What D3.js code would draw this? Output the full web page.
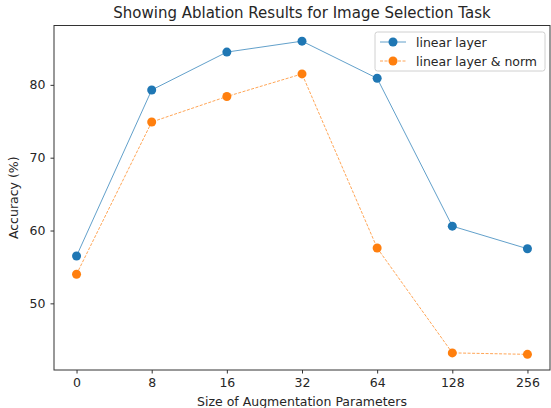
<!DOCTYPE html>
<html><head><meta charset="utf-8">
<script src="https://cdn.jsdelivr.net/npm/d3@7"></script>
<style>body{margin:0;background:#fff;}svg{display:block;font-family:"DejaVu Sans",sans-serif;}</style>
</head><body>
<svg id="c" width="551" height="408"></svg>
<script>
const categories = ["0","8","16","32","64","128","256"];
const linearLayer = [56.5, 79.3, 84.5, 86.0, 80.9, 60.6, 57.5];
const linearLayerNorm = [54.0, 74.9, 78.4, 81.5, 57.6, 43.2, 43.0];
const yTicks = [50, 60, 70, 80];
const seriesNames = ["linear layer", "linear layer & norm"];

const svg = d3.select("#c");
const L = 54, R = 550, T = 25.5, B = 370;
const x = d3.scaleLinear().domain([-0.3, 6.3]).range([L, R]);
const y = d3.scaleLinear().domain([40.85, 88.15]).range([B, T]);
const FS = 12.5;

// axes
const xAxis = svg.append("g").attr("transform", `translate(0,${B})`)
  .call(d3.axisBottom(x).tickValues(d3.range(categories.length)).tickFormat(i => categories[i]).tickSize(3.5).tickPadding(5));
const yAxis = svg.append("g").attr("transform", `translate(${L},0)`)
  .call(d3.axisLeft(y).tickValues(yTicks).tickSize(3.5).tickPadding(5));
[xAxis, yAxis].forEach(g => {
  g.select(".domain").remove();
  g.selectAll("text").attr("font-size", FS).attr("fill", "#262626").attr("font-family", "DejaVu Sans");
  g.selectAll("line").attr("stroke", "#333");
});
svg.append("rect").attr("x", L).attr("y", T).attr("width", R - L).attr("height", B - T)
  .attr("fill", "none").attr("stroke", "#333").attr("stroke-width", 1);

const series = [
  {name: seriesNames[0], vals: linearLayer, color: "#1f77b4", dash: null},
  {name: seriesNames[1], vals: linearLayerNorm, color: "#ff7f0e", dash: "3,1.5"}
];
const line = d3.line().x((d, i) => x(i)).y(d => y(d));
series.forEach(s => {
  svg.append("path").datum(s.vals).attr("d", line).attr("fill", "none")
    .attr("stroke", s.color).attr("stroke-opacity", 0.7).attr("stroke-width", 1)
    .attr("stroke-dasharray", s.dash);
  svg.selectAll(null).data(s.vals).enter().append("circle")
    .attr("cx", (d, i) => x(i)).attr("cy", d => y(d)).attr("r", 4.5).attr("fill", s.color);
});

// title and labels
svg.append("text").attr("x", (L + R) / 2).attr("y", 18).attr("text-anchor", "middle")
  .attr("font-size", 15).attr("fill", "#262626").text("Showing Ablation Results for Image Selection Task");
svg.append("text").attr("x", (L + R) / 2).attr("y", 406).attr("text-anchor", "middle")
  .attr("font-size", FS).attr("fill", "#262626").text("Size of Augmentation Parameters");
svg.append("text").attr("transform", `translate(18,${(T + B) / 2}) rotate(-90)`).attr("text-anchor", "middle")
  .attr("font-size", FS).attr("fill", "#262626").text("Accuracy (%)");

// legend
const lg = svg.append("g");
lg.append("rect").attr("x", 375).attr("y", 32).attr("width", 170).attr("height", 39).attr("rx", 2.5)
  .attr("fill", "#fff").attr("fill-opacity", 0.8).attr("stroke", "#d0d0d0");
series.forEach((s, i) => {
  const yy = 42 + i * 19;
  lg.append("line").attr("x1", 380).attr("x2", 406).attr("y1", yy).attr("y2", yy)
    .attr("stroke", s.color).attr("stroke-opacity", 0.7).attr("stroke-dasharray", s.dash);
  lg.append("circle").attr("cx", 393).attr("cy", yy).attr("r", 4.5).attr("fill", s.color);
  lg.append("text").attr("x", 416).attr("y", yy + 4.5).attr("font-size", FS).attr("fill", "#262626").text(s.name);
});
</script>
</body></html>
